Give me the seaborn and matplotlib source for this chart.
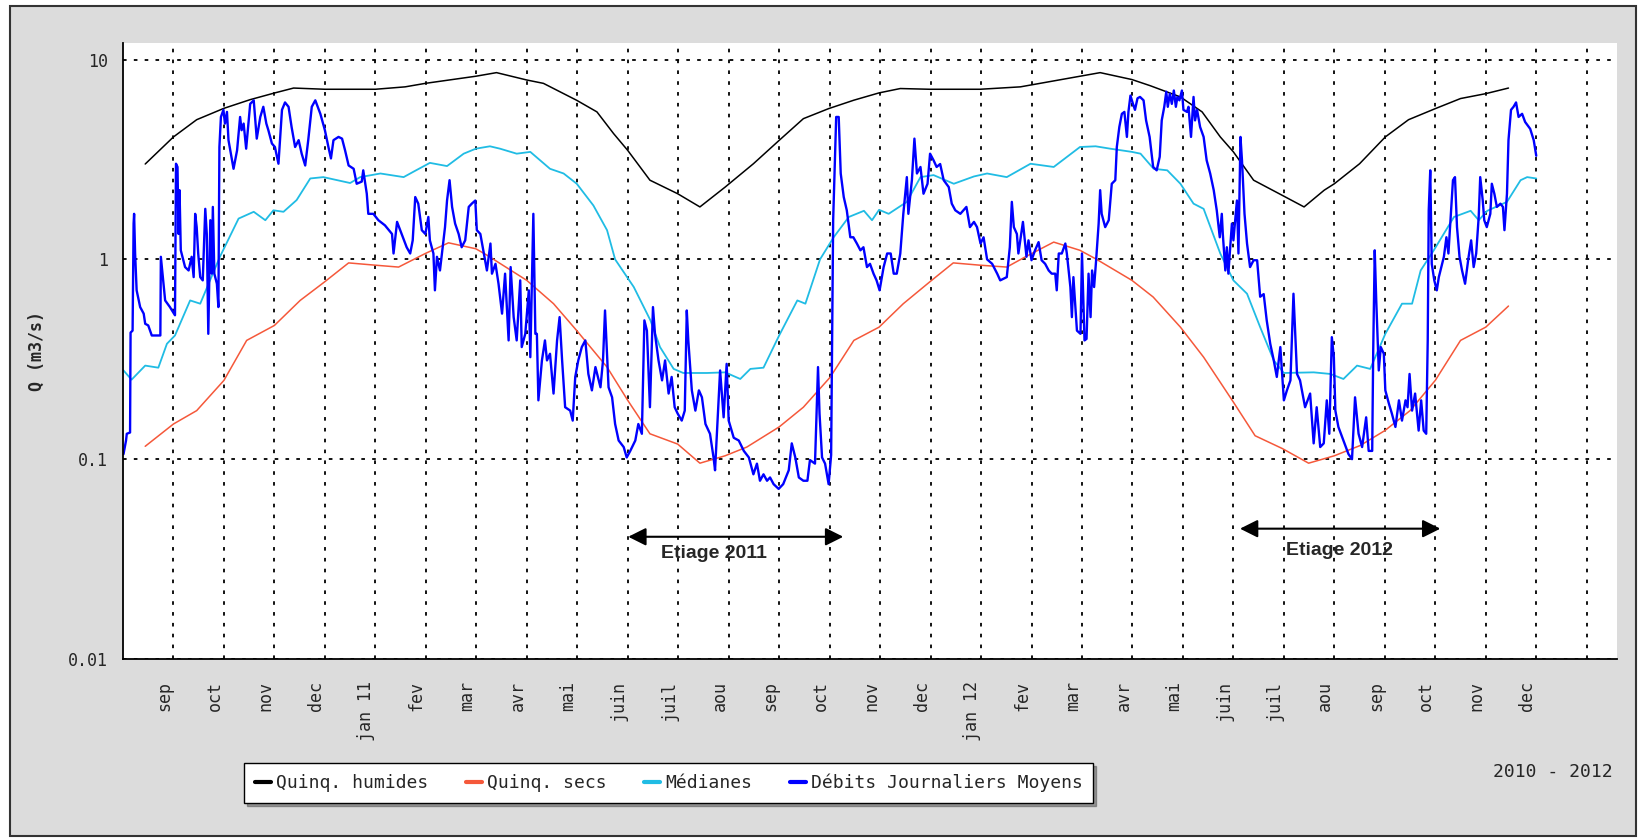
import matplotlib
matplotlib.use("Agg")
import matplotlib.pyplot as plt
import matplotlib.ticker as mticker
from matplotlib.patches import Rectangle
import seaborn as sns

sns.set_style("white")
plt.rcParams['font.family'] = ['DejaVu Sans Mono', 'DejaVu Sans']

# axe x en mois : 0 = sep 2010, 28 = jan 2013
mois_labels = ["sep", "oct", "nov", "dec", "jan 11", "fev", "mar", "avr", "mai", "juin", "juil", "aou",
               "sep", "oct", "nov", "dec", "jan 12", "fev", "mar", "avr", "mai", "juin", "juil", "aou",
               "sep", "oct", "nov", "dec", ""]

# Quinquennales humides
humides_x = [-0.56, 0.0, 0.46, 1.0, 1.52, 2.0, 2.38, 3.0, 4.0, 4.59, 4.99, 5.99, 6.4, 7.0, 7.33, 7.99,
             8.39, 8.72, 9.0, 9.44, 9.99, 10.43, 10.93, 11.49, 12.0, 12.48, 12.98, 13.48, 13.98, 14.4,
             14.98, 15.98, 16.78, 17.96, 18.36, 18.99, 19.35, 19.95, 20.38, 20.74, 21.0, 21.4, 21.97,
             22.4, 22.8, 23.0, 23.5, 24.01, 24.47, 25.0, 25.5, 26.0, 26.45]
humides_q = [3.0, 4.1, 5.0, 5.7, 6.3, 6.8, 7.2, 7.1, 7.1, 7.3, 7.6, 8.25, 8.6, 7.9, 7.6, 6.25,
             5.47, 4.26, 3.51, 2.49, 2.13, 1.83, 2.3, 3.01, 3.94, 5.06, 5.68, 6.26, 6.81, 7.16,
             7.1, 7.1, 7.3, 8.25, 8.6, 7.94, 7.4, 6.5, 5.47, 4.1, 3.45, 2.49, 2.09,
             1.83, 2.22, 2.39, 3.01, 4.1, 5.0, 5.68, 6.38, 6.75, 7.2]

# Quinquennales seches
secs_x = [-0.56, 0.0, 0.46, 1.0, 1.45, 2.0, 2.51, 2.99, 3.47, 4.0, 4.46, 4.99, 5.45, 5.99, 6.21, 7.0,
          7.53, 7.99, 8.59, 9.0, 9.44, 9.99, 10.43, 10.93, 11.36, 12.0, 12.48, 13.01, 13.48, 13.98,
          14.46, 14.98, 15.45, 15.98, 16.51, 16.88, 17.44, 17.96, 18.29, 18.99, 19.41, 19.95, 20.41,
          21.0, 21.43, 21.97, 22.49, 23.0, 23.51, 24.0, 24.5, 25.0, 25.5, 26.0, 26.45]
secs_q = [0.116, 0.15, 0.175, 0.248, 0.393, 0.467, 0.623, 0.77, 0.96, 0.935, 0.915, 1.07, 1.21, 1.13,
          1.05, 0.785, 0.6, 0.44, 0.289, 0.197, 0.134, 0.119, 0.0955, 0.104, 0.115, 0.145, 0.182,
          0.257, 0.393, 0.458, 0.6, 0.77, 0.96, 0.935, 0.915, 1.03, 1.22, 1.11, 1.0, 0.785, 0.648,
          0.458, 0.324, 0.193, 0.131, 0.113, 0.0955, 0.104, 0.117, 0.139, 0.175, 0.248, 0.393,
          0.458, 0.584]

# Medianes
medianes_x = [-0.99, -0.83, -0.56, -0.3, -0.13, 0.03, 0.33, 0.53, 0.92, 1.29, 1.59, 1.82, 1.98, 2.18,
              2.44, 2.71, 2.97, 3.5, 3.7, 4.1, 4.56, 4.76, 5.08, 5.42, 5.75, 5.99, 6.27, 6.47, 6.8,
              7.07, 7.46, 7.73, 7.99, 8.32, 8.59, 8.75, 9.12, 9.45, 9.64, 9.91, 10.1, 10.57, 10.93,
              11.23, 11.43, 11.69, 12.0, 12.36, 12.52, 12.81, 13.08, 13.38, 13.68, 13.84, 13.98, 14.17,
              14.53, 14.8, 15.06, 15.46, 15.86, 16.12, 16.51, 16.98, 17.44, 17.96, 18.27, 18.56, 18.99,
              19.16, 19.42, 19.69, 19.95, 20.21, 20.41, 20.74, 21.0, 21.27, 21.53, 21.8, 22.0, 22.59,
              22.92, 23.18, 23.45, 23.71, 24.01, 24.34, 24.54, 24.71, 24.97, 25.37, 25.7, 25.86, 26.03,
              26.42, 26.69, 26.82, 27.0]
medianes_q = [0.278, 0.25, 0.294, 0.287, 0.378, 0.416, 0.623, 0.6, 1.03, 1.6, 1.73, 1.57, 1.76, 1.73,
              1.98, 2.54, 2.58, 2.41, 2.58, 2.69, 2.58, 2.75, 3.04, 2.93, 3.38, 3.58, 3.68, 3.58, 3.38,
              3.45, 2.84, 2.69, 2.39, 1.86, 1.4, 1.0, 0.727, 0.495, 0.364, 0.283, 0.27, 0.27, 0.272,
              0.252, 0.283, 0.287, 0.416, 0.623, 0.6, 1.0, 1.29, 1.63, 1.75, 1.57, 1.77, 1.69,
              1.94, 2.58, 2.64, 2.39, 2.6, 2.69, 2.58, 3.01, 2.9, 3.65, 3.68, 3.58, 3.45,
              3.38, 2.84, 2.79, 2.39, 1.9, 1.79, 1.07, 0.785, 0.673, 0.458, 0.312, 0.27, 0.272,
              0.267, 0.252, 0.294, 0.283, 0.424, 0.6, 0.6, 0.88, 1.11, 1.63, 1.75, 1.57, 1.75,
              1.94, 2.49, 2.58, 2.54]

# Debits journaliers moyens
debits_x = [
    -0.99, -0.94, -0.925, -0.86, -0.85, -0.81, -0.79, -0.78, -0.76, -0.73, -0.66, -0.59, -0.56, -0.5,
    -0.43, -0.26, -0.25, -0.23, -0.165, -0.07, 0.03, 0.05, 0.08, 0.1, 0.12, 0.145, 0.23, 0.3, 0.36,
    0.4, 0.43, 0.46, 0.49, 0.53, 0.58, 0.63, 0.66, 0.69, 0.73, 0.76, 0.78, 0.81, 0.86, 0.89, 0.91,
    0.94, 0.99, 1.02, 1.06, 1.09, 1.19, 1.26, 1.32, 1.35, 1.39, 1.44, 1.52, 1.59, 1.65, 1.72, 1.78,
    1.84, 1.88, 1.95, 2.01, 2.08, 2.15, 2.21, 2.28, 2.34, 2.41, 2.48, 2.54, 2.61, 2.67, 2.74, 2.81,
    2.91, 3.0, 3.07, 3.12, 3.17, 3.27, 3.34, 3.4, 3.47, 3.57, 3.63, 3.73, 3.76, 3.83, 3.86, 3.96,
    4.06, 4.19, 4.33, 4.36, 4.43, 4.52, 4.62, 4.69, 4.74, 4.79, 4.85,
    4.92, 4.99, 5.05, 5.08, 5.15, 5.18, 5.22, 5.28, 5.32, 5.38, 5.42, 5.47, 5.52, 5.58, 5.65, 5.71,
    5.78, 5.85, 5.91, 5.98, 6.01, 6.08, 6.15, 6.21, 6.28, 6.31, 6.38, 6.44, 6.51, 6.57, 6.64, 6.68,
    6.74, 6.8, 6.87, 6.9, 6.97, 7.04, 7.07, 7.13, 7.17, 7.2, 7.23, 7.3, 7.36, 7.4, 7.46, 7.53, 7.6,
    7.65, 7.7, 7.76, 7.86, 7.91, 7.96, 8.02, 8.09, 8.16, 8.22, 8.29, 8.36, 8.46, 8.51, 8.55, 8.62,
    8.69, 8.75, 8.82, 8.92, 8.98, 9.05, 9.15, 9.21, 9.28, 9.33, 9.38, 9.44, 9.5, 9.54, 9.61, 9.68,
    9.74, 9.81, 9.87, 9.93, 9.99, 10.07, 10.13, 10.17, 10.2, 10.27, 10.34, 10.41, 10.47, 10.54,
    10.63, 10.7, 10.73, 10.76,
    10.83, 10.9, 10.96, 11.0, 11.1, 11.2, 11.3, 11.4, 11.49, 11.56, 11.62, 11.69, 11.76, 11.82,
    11.89, 11.99, 12.08, 12.19, 12.25, 12.32, 12.39, 12.48, 12.56, 12.61, 12.71, 12.77, 12.8, 12.85,
    12.91, 12.98, 13.03, 13.07, 13.13, 13.18, 13.22, 13.28, 13.34, 13.41, 13.47, 13.54, 13.61,
    13.67, 13.74, 13.8, 13.87, 13.93, 13.99, 14.07, 14.14, 14.21, 14.27, 14.33, 14.4, 14.46, 14.53,
    14.56, 14.63, 14.68, 14.73, 14.8, 14.86, 14.94, 14.99, 15.06, 15.12, 15.19, 15.26, 15.36, 15.42,
    15.49, 15.59, 15.71, 15.78, 15.86, 15.92, 15.99, 16.05, 16.12, 16.22, 16.32, 16.38, 16.51,
    16.57, 16.61, 16.65, 16.71, 16.74, 16.83,
    16.9, 16.94, 17.0, 17.07, 17.14, 17.2, 17.27, 17.34, 17.4, 17.47, 17.5, 17.54, 17.6, 17.67,
    17.7, 17.77, 17.8, 17.83, 17.9, 17.97, 18.0, 18.05, 18.09, 18.13, 18.17, 18.2, 18.24, 18.28,
    18.33, 18.36, 18.39, 18.46, 18.53, 18.59, 18.66, 18.69, 18.74, 18.79, 18.84, 18.89, 18.92,
    18.96, 19.01, 19.05, 19.1, 19.15, 19.22, 19.27, 19.34, 19.41, 19.48, 19.54, 19.58, 19.63,
    19.67, 19.7, 19.74, 19.78, 19.82, 19.86, 19.89, 19.93, 19.98, 20.01, 20.08, 20.11, 20.16,
    20.21, 20.24, 20.28, 20.34, 20.41, 20.47, 20.54, 20.61, 20.67, 20.73, 20.77, 20.79, 20.84,
    20.87, 20.9, 20.97, 21.0, 21.07, 21.1, 21.14, 21.17, 21.22, 21.27, 21.33, 21.4, 21.47, 21.53,
    21.6, 21.66, 21.73, 21.8, 21.86, 21.93, 22.0, 22.06, 22.13, 22.19, 22.26, 22.32, 22.42, 22.52,
    22.59, 22.65, 22.72,
    22.79, 22.85, 22.9, 22.95, 22.99, 23.02, 23.08, 23.18, 23.28, 23.35, 23.41, 23.48, 23.55,
    23.63, 23.68, 23.75, 23.77, 23.8, 23.83, 23.88, 23.92, 23.98, 24.01, 24.08, 24.14, 24.21,
    24.28, 24.34, 24.41, 24.45, 24.49, 24.54, 24.6, 24.67, 24.72, 24.77, 24.82, 24.85, 24.87,
    24.9, 24.93, 24.98, 25.03, 25.07, 25.17, 25.22, 25.26, 25.3, 25.35, 25.39, 25.43, 25.48,
    25.53, 25.59, 25.66, 25.71, 25.76, 25.81, 25.86, 25.89, 25.94, 25.97, 26.02, 26.09, 26.12,
    26.17, 26.22, 26.29, 26.34, 26.37, 26.42, 26.45, 26.5, 26.55, 26.6, 26.65, 26.72, 26.78,
    26.88, 26.95, 27.0]
debits_q = [
    0.106, 0.124, 0.134, 0.136, 0.43, 0.44, 1.51, 1.69, 1.07, 0.7, 0.577, 0.535, 0.476, 0.467,
    0.416, 0.416, 1.03, 0.915, 0.623, 0.577, 0.525, 3.01, 2.9, 1.34, 2.22, 1.11, 0.915, 0.88, 1.03,
    0.815, 1.69, 1.45, 1.07, 0.815, 0.785, 1.79, 1.34, 0.424, 1.57, 0.848, 1.83, 0.848, 0.755, 0.577,
    3.65, 5.16, 5.6, 4.78, 5.47, 3.95, 2.84, 3.51, 5.16, 4.43, 4.78, 3.58, 6.0, 6.25, 4.02, 5.16, 5.8,
    4.78, 4.43, 3.8, 3.65, 3.01, 5.6, 6.1, 5.8, 4.6, 3.65, 3.95, 3.38, 2.95, 3.95, 5.8, 6.25,
    5.35, 4.43, 3.65, 3.2, 3.95, 4.1, 4.02, 3.51, 2.95, 2.84, 2.39, 2.45, 2.79, 2.13, 1.69, 1.69,
    1.57, 1.48, 1.34, 1.07, 1.54, 1.34, 1.15, 1.07, 1.245, 2.05, 1.9,
    1.4, 1.34, 1.63, 1.245, 1.07, 0.7, 1.03, 0.88, 1.07, 1.45, 1.97, 2.49, 1.83, 1.51, 1.34, 1.15,
    1.245, 1.83, 1.9, 1.97, 1.4, 1.34, 1.07, 0.88, 1.2, 0.848, 0.95, 0.755, 0.535, 0.848, 0.393, 0.915,
    0.514, 0.393, 0.785, 0.364, 0.424, 0.7, 0.324, 1.69, 0.424, 0.424, 0.197, 0.312, 0.393, 0.312,
    0.337, 0.213, 0.393, 0.514, 0.312, 0.182, 0.175, 0.156, 0.258, 0.312, 0.364, 0.393, 0.267,
    0.221, 0.289, 0.229, 0.312, 0.555, 0.229, 0.204, 0.15, 0.124, 0.115, 0.102, 0.11, 0.124, 0.15,
    0.134, 0.495, 0.44, 0.182, 0.577, 0.424, 0.312, 0.248, 0.312, 0.213, 0.258, 0.182, 0.169,
    0.156, 0.175, 0.555, 0.393, 0.221, 0.175, 0.221, 0.204, 0.15, 0.134, 0.102, 0.088, 0.124,
    0.278, 0.162, 0.3, 0.156, 0.128, 0.124, 0.11, 0.102, 0.084, 0.095, 0.078, 0.084, 0.078, 0.081,
    0.075, 0.071, 0.075, 0.088, 0.12, 0.102, 0.081, 0.078, 0.078, 0.099, 0.095, 0.289, 0.169, 0.102,
    0.095, 0.075, 0.105, 1.57, 5.16, 5.16, 2.69, 2.05, 1.76, 1.29, 1.29, 1.2, 1.11,
    1.15, 0.915, 0.95, 0.848, 0.785, 0.7, 0.915, 1.07, 1.07, 0.848, 0.848, 1.07, 1.69, 2.58,
    1.69, 2.49, 4.02, 2.69, 2.9, 2.13, 2.39, 3.38, 3.13, 2.9, 3.0, 2.49, 2.3, 1.9,
    1.76, 1.69, 1.83, 1.45, 1.54, 1.45, 1.2, 1.29, 1.0, 0.95, 0.848, 0.785, 0.815,
    1.15, 1.94, 1.45, 1.34, 1.07, 1.54,
    1.03, 1.245, 0.99, 1.11, 1.22, 0.99, 0.95, 0.88, 0.848, 0.848, 0.7, 1.07, 1.07, 1.2,
    1.07, 0.727, 0.514, 0.815, 0.44, 0.424, 1.07, 0.393, 0.4, 0.848, 0.514, 0.88, 0.727, 0.99,
    1.51, 2.22, 1.69, 1.45, 1.57, 2.39, 2.49, 3.65, 4.6, 5.35, 5.47, 4.1, 5.47,
    6.6, 6.0, 5.6, 6.4, 6.5, 6.25, 4.96, 4.1, 2.9, 2.79, 3.26, 4.96, 5.8,
    6.9, 5.8, 6.75, 6.0, 7.0, 5.8, 6.5, 6.25, 7.0, 5.6, 5.47, 5.8, 4.1,
    6.5, 4.96, 5.6, 4.6, 4.1, 3.13, 2.69, 2.22, 1.76, 1.29, 1.69, 1.34, 0.88,
    1.15, 0.848, 1.51, 1.245, 1.97, 1.07, 4.1, 3.13, 1.69, 1.2, 0.915, 0.99, 0.99, 0.65,
    0.67, 0.495, 0.378, 0.312, 0.258, 0.364, 0.197, 0.221, 0.248, 0.673, 0.267, 0.248, 0.182, 0.213,
    0.12, 0.182, 0.115,
    0.12, 0.197, 0.134, 0.408, 0.324, 0.175, 0.145, 0.124, 0.106, 0.1, 0.204, 0.134, 0.115,
    0.162, 0.11, 0.11, 0.35, 1.11, 0.623, 0.278, 0.364, 0.337, 0.221, 0.19, 0.169, 0.145,
    0.197, 0.156, 0.197, 0.182, 0.267, 0.175, 0.213, 0.139, 0.197, 0.139, 0.134, 0.393, 1.76,
    2.79, 0.95, 0.785, 0.7, 0.815, 1.03, 1.29, 1.07, 1.57, 2.49, 2.58, 1.45, 1.03,
    0.88, 0.755, 1.03, 1.245, 0.915, 1.07, 1.63, 2.58, 1.97, 1.57, 1.45, 1.69, 2.39,
    2.13, 1.83, 1.9, 1.83, 1.4, 2.13, 3.95, 5.6, 5.8, 6.1, 5.16, 5.35, 4.87,
    4.5, 3.95, 3.3]

W, H = 1639, 840
fig = plt.figure(figsize=(W / 100, H / 100), dpi=100)
fig.patch.set_facecolor("white")
fig.add_artist(Rectangle((10 / W, 4 / H), (1636 - 10) / W, (834 - 4) / H, transform=fig.transFigure,
                         facecolor="#dcdcdc", edgecolor="#333333", linewidth=1.5, zorder=-10))

ax = fig.add_axes([123 / W, 1 - 659 / H, (1617 - 123) / W, (659 - 43) / H])
ax.set_facecolor("white")

sns.lineplot(x=humides_x, y=humides_q, ax=ax, color="black", linewidth=1.1,
             estimator=None, sort=False, label="Quinq. humides")
sns.lineplot(x=secs_x, y=secs_q, ax=ax, color="#f5583a", linewidth=1.1,
             estimator=None, sort=False, label="Quinq. secs")
sns.lineplot(x=medianes_x, y=medianes_q, ax=ax, color="#20bce4", linewidth=1.3,
             estimator=None, sort=False, label="Médianes")
sns.lineplot(x=debits_x, y=debits_q, ax=ax, color="#0000ff", linewidth=1.7,
             estimator=None, sort=False, label="Débits Journaliers Moyens")

ax.set_yscale("log")
ax.set_ylim(0.01, 12.1)
ax.set_xlim(-1, 28.6)

ax.set_yticks([0.01, 0.1, 1, 10])
ax.set_yticklabels(["0.01", "0.1", "1", "10"])
ax.yaxis.set_minor_locator(mticker.LogLocator(base=10, subs=range(2, 10)))
ax.yaxis.set_minor_formatter(mticker.NullFormatter())

ax.set_xticks(range(len(mois_labels)))
ax.set_xticklabels(mois_labels, rotation=90, ha="right", va="top")

ax.tick_params(axis="x", direction="in", length=8, width=1.2, pad=16, labelsize=12)
ax.tick_params(axis="y", which="major", direction="out", length=7, width=1.2, pad=4, labelsize=12)
ax.tick_params(axis="y", which="minor", direction="out", length=4, width=1.0)

ax.grid(True, which="major", color="black", linestyle=(0, (2, 4)), linewidth=1.3)
for s in ["top", "right"]:
    ax.spines[s].set_visible(False)
for s in ["left", "bottom"]:
    ax.spines[s].set_color("black")
    ax.spines[s].set_linewidth(1.3)

ax.set_xlabel("")
ax.set_ylabel("Q (m3/s)", fontsize=12, fontweight="bold", labelpad=16)

# fleches etiage
for x0, x1, y, tx, ty, txt in [(9.01, 13.27, 0.0409, 10.71, 0.0336, "Etiage 2011"),
                               (21.13, 25.1, 0.0449, 23.1, 0.0348, "Etiage 2012")]:
    ax.annotate("", xy=(x0, y), xytext=(x1, y),
                arrowprops=dict(arrowstyle="<|-|>,head_length=0.6,head_width=0.3", color="black",
                                lw=1.5, mutation_scale=18, shrinkA=0, shrinkB=0))
    ax.text(tx, ty, txt, ha="center", va="center", fontsize=14, fontweight="bold",
            family=["Liberation Sans", "DejaVu Sans"])

leg = ax.legend(loc="center", bbox_to_anchor=(0.408, 0.068), bbox_transform=fig.transFigure,
                ncol=4, frameon=True, fancybox=False, shadow=True, edgecolor="black",
                framealpha=1, fontsize=13, handlelength=0.9, handletextpad=0.25,
                columnspacing=2.1, borderpad=0.6)
for h in leg.legend_handles:
    h.set_linewidth(3)

fig.text(1613 / W, 1 - 772 / H, "2010 - 2012", ha="right", va="center", fontsize=13)

fig.savefig("out.png", dpi=100)
